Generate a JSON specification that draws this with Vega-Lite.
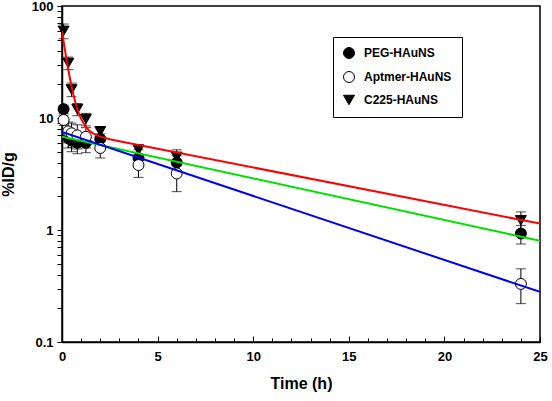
{
  "$schema": "https://vega.github.io/schema/vega-lite/v6.json",
  "autosize": {"type": "none"},
  "width": 478,
  "height": 336,
  "padding": {"left": 62, "top": 6, "right": 12, "bottom": 59},
  "background": "white",
  "config": {
    "view": {"stroke": "black", "strokeWidth": 1.5},
    "axis": {
      "domainColor": "black", "domainWidth": 1.5, "tickColor": "black", "tickWidth": 1,
      "labelFont": "Liberation Sans", "labelFontWeight": "bold", "labelFontSize": 13, "labelColor": "black",
      "titleFont": "Liberation Sans", "titleFontWeight": "bold", "titleFontSize": 16, "titleColor": "black",
      "grid": false
    },
    "legend": {
      "orient": "none", "legendX": 271, "legendY": 31,
      "strokeColor": "black", "fillColor": "white", "padding": 10,
      "labelFont": "Liberation Sans", "labelFontSize": 12, "labelFontWeight": "bold", "labelColor": "black",
      "symbolSize": 120, "symbolStrokeWidth": 1, "rowPadding": 8, "labelOffset": 9
    }
  },
  "datasets": {
    "pts": [
      {"s": "PEG-HAuNS", "t": 0.083, "v": 12, "lo": 11, "hi": 13},
      {"s": "PEG-HAuNS", "t": 0.33, "v": 6.6, "lo": 5.4, "hi": 7.8},
      {"s": "PEG-HAuNS", "t": 0.5, "v": 6.3, "lo": 5.0, "hi": 7.6},
      {"s": "PEG-HAuNS", "t": 0.8, "v": 6.0, "lo": 4.8, "hi": 7.2},
      {"s": "PEG-HAuNS", "t": 1.25, "v": 6.0, "lo": 4.9, "hi": 7.1},
      {"s": "PEG-HAuNS", "t": 2, "v": 6.5, "lo": 5.8, "hi": 7.2},
      {"s": "PEG-HAuNS", "t": 4, "v": 4.4, "lo": 3.6, "hi": 5.2},
      {"s": "PEG-HAuNS", "t": 6, "v": 4.0, "lo": 3.4, "hi": 4.6},
      {"s": "PEG-HAuNS", "t": 24, "v": 0.93, "lo": 0.75, "hi": 1.1},
      {"s": "Aptmer-HAuNS", "t": 0.083, "v": 9.6, "lo": 8.6, "hi": 10.6},
      {"s": "Aptmer-HAuNS", "t": 0.33, "v": 7.6, "lo": 6.0, "hi": 9.2},
      {"s": "Aptmer-HAuNS", "t": 0.5, "v": 7.3, "lo": 5.5, "hi": 9.0},
      {"s": "Aptmer-HAuNS", "t": 0.8, "v": 7.0, "lo": 5.3, "hi": 8.7},
      {"s": "Aptmer-HAuNS", "t": 1.25, "v": 6.8, "lo": 5.4, "hi": 8.2},
      {"s": "Aptmer-HAuNS", "t": 2, "v": 5.4, "lo": 4.4, "hi": 6.4},
      {"s": "Aptmer-HAuNS", "t": 4, "v": 3.8, "lo": 2.95, "hi": 4.65},
      {"s": "Aptmer-HAuNS", "t": 6, "v": 3.2, "lo": 2.2, "hi": 4.2},
      {"s": "Aptmer-HAuNS", "t": 24, "v": 0.33, "lo": 0.22, "hi": 0.45},
      {"s": "C225-HAuNS", "t": 0.083, "v": 60, "lo": 51, "hi": 69},
      {"s": "C225-HAuNS", "t": 0.33, "v": 31, "lo": 27, "hi": 35},
      {"s": "C225-HAuNS", "t": 0.5, "v": 18, "lo": 15.5, "hi": 20.5},
      {"s": "C225-HAuNS", "t": 0.8, "v": 12, "lo": 10.5, "hi": 13.5},
      {"s": "C225-HAuNS", "t": 1.25, "v": 9.8, "lo": 8.5, "hi": 11},
      {"s": "C225-HAuNS", "t": 2, "v": 7.6, "lo": 6.8, "hi": 8.4},
      {"s": "C225-HAuNS", "t": 4, "v": 5.2, "lo": 4.6, "hi": 5.8},
      {"s": "C225-HAuNS", "t": 6, "v": 4.5, "lo": 3.9, "hi": 5.2},
      {"s": "C225-HAuNS", "t": 24, "v": 1.22, "lo": 1.0, "hi": 1.45}
    ],
    "curves": [
      {"c": "C225", "t": 0, "v": 59.8},
      {"c": "C225", "t": 0.1, "v": 46.26},
      {"c": "C225", "t": 0.2, "v": 36.22},
      {"c": "C225", "t": 0.3, "v": 28.76},
      {"c": "C225", "t": 0.4, "v": 23.22},
      {"c": "C225", "t": 0.5, "v": 19.11},
      {"c": "C225", "t": 0.6, "v": 16.05},
      {"c": "C225", "t": 0.7, "v": 13.76},
      {"c": "C225", "t": 0.8, "v": 12.05},
      {"c": "C225", "t": 0.9, "v": 10.77},
      {"c": "C225", "t": 1.0, "v": 9.81},
      {"c": "C225", "t": 1.2, "v": 8.53},
      {"c": "C225", "t": 1.4, "v": 7.78},
      {"c": "C225", "t": 1.6, "v": 7.33},
      {"c": "C225", "t": 1.8, "v": 7.03},
      {"c": "C225", "t": 2.0, "v": 6.82},
      {"c": "C225", "t": 2.5, "v": 6.46},
      {"c": "C225", "t": 3.0, "v": 6.2},
      {"c": "C225", "t": 25, "v": 1.14},
      {"c": "PEG", "t": 0, "v": 6.8},
      {"c": "PEG", "t": 25, "v": 0.8},
      {"c": "Aptmer", "t": 0, "v": 7.5},
      {"c": "Aptmer", "t": 25, "v": 0.28}
    ]
  },
  "encoding": {
    "x": {
      "field": "t", "type": "quantitative", "scale": {"domain": [0, 25], "nice": false},
      "title": "Time (h)",
      "axis": {
        "values": [0,1,2,3,4,5,6,7,8,9,10,11,12,13,14,15,16,17,18,19,20,21,22,23,24,25],
        "labelExpr": "datum.value % 5 === 0 ? datum.label : ''",
        "tickSize": {"condition": {"test": "datum.value % 5 === 0", "value": -6}, "value": -4},
        "labelPadding": 14,
        "titlePadding": 12,
        "labelFlush": false
      }
    }
  },
  "layer": [
    {
      "data": {"name": "pts"},
      "mark": {"type": "rule", "color": "black", "strokeWidth": 1},
      "encoding": {
        "y": {
          "field": "lo", "type": "quantitative", "scale": {"type": "log", "domain": [0.1, 100]},
          "title": "%ID/g",
          "axis": {
            "values": [0.1,0.2,0.3,0.4,0.5,0.6,0.7,0.8,0.9,1,2,3,4,5,6,7,8,9,10,20,30,40,50,60,70,80,90,100],
            "format": "~g",
            "labelExpr": "(datum.value == 0.1 || datum.value == 1 || datum.value == 10 || datum.value == 100) ? datum.label : ''",
            "tickSize": 5,
            "labelPadding": 4,
            "titlePadding": 15,
            "labelFlush": false
          }
        },
        "y2": {"field": "hi"}
      }
    },
    {
      "data": {"name": "pts"},
      "mark": {"type": "tick", "orient": "horizontal", "color": "black", "size": 10, "thickness": 1},
      "encoding": {
        "y": {"field": "lo", "type": "quantitative", "title": "%ID/g"}
      }
    },
    {
      "data": {"name": "pts"},
      "mark": {"type": "tick", "orient": "horizontal", "color": "black", "size": 10, "thickness": 1},
      "encoding": {
        "y": {"field": "hi", "type": "quantitative", "title": "%ID/g"}
      }
    },
    {
      "data": {"name": "pts"},
      "mark": {"type": "point", "filled": false, "strokeWidth": 1, "size": 120, "opacity": 1},
      "encoding": {
        "y": {"field": "v", "type": "quantitative", "title": "%ID/g"},
        "shape": {
          "field": "s", "type": "nominal", "title": null,
          "scale": {"domain": ["PEG-HAuNS", "Aptmer-HAuNS", "C225-HAuNS"], "range": ["circle", "circle", "triangle-down"]}
        },
        "fill": {
          "field": "s", "type": "nominal", "title": null,
          "scale": {"domain": ["PEG-HAuNS", "Aptmer-HAuNS", "C225-HAuNS"], "range": ["black", "white", "black"]}
        },
        "stroke": {
          "field": "s", "type": "nominal", "title": null,
          "scale": {"domain": ["PEG-HAuNS", "Aptmer-HAuNS", "C225-HAuNS"], "range": ["black", "black", "black"]}
        }
      }
    },
    {
      "data": {"name": "curves"},
      "mark": {"type": "line", "strokeWidth": 2, "clip": true},
      "encoding": {
        "y": {"field": "v", "type": "quantitative", "title": "%ID/g"},
        "color": {
          "field": "c", "type": "nominal",
          "scale": {"domain": ["C225", "PEG", "Aptmer"], "range": ["#ff0000", "#00e000", "#0000ff"]},
          "legend": null
        }
      }
    }
  ]
}
